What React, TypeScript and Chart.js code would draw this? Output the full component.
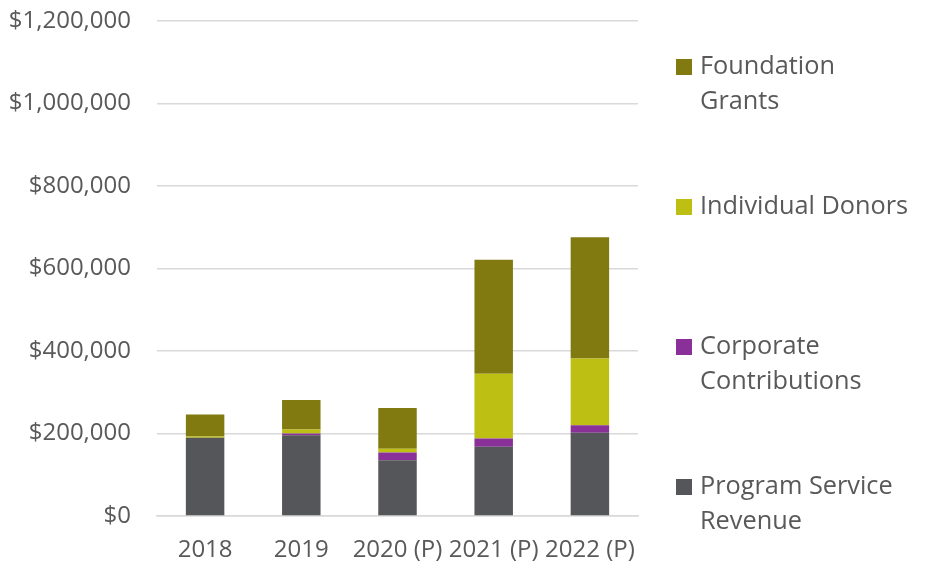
import React, { useEffect, useRef } from "react";
import { Chart, registerables } from "chart.js";

Chart.register(...registerables);

const categories = ["2018", "2019", "2020 (P)", "2021 (P)", "2022 (P)"];
const programService = [190000, 196000, 135000, 168000, 202000];
const corporate = [0, 4000, 19000, 20000, 18000];
const individual = [3000, 10000, 9000, 157000, 162000];
const foundation = [53000, 71000, 99000, 276000, 294000];

const legendItems = [
  { lines: ["Foundation", "Grants"], color: "#807A10" },
  { lines: ["Individual Donors"], color: "#BDBF13" },
  { lines: ["Corporate", "Contributions"], color: "#8A3199" },
  { lines: ["Program Service", "Revenue"], color: "#55565A" },
];

const FONT = "'Open Sans', sans-serif";
const TEXT = "#595959";

const legendPlugin = {
  id: "sideLegend",
  afterDraw(chart: any) {
    const ctx = chart.ctx;
    ctx.save();
    ctx.font = `25.3px ${FONT}`;
    ctx.textBaseline = "middle";
    ctx.textAlign = "left";
    const x0 = 676;
    const firstY = 67;
    const step = 140;
    const lineH = 35;
    legendItems.forEach((it, i) => {
      const y = firstY + i * step;
      ctx.fillStyle = it.color;
      ctx.fillRect(x0, y - 8, 16, 16);
      ctx.fillStyle = TEXT;
      it.lines.forEach((l, j) => {
        ctx.fillText(l, x0 + 24, y + j * lineH);
      });
    });
    ctx.restore();
  },
};

export default function App() {
  const ref = useRef<HTMLCanvasElement | null>(null);
  useEffect(() => {
    if (!ref.current) return;
    const chart = new Chart(ref.current, {
      type: "bar",
      data: {
        labels: categories,
        datasets: [
          { label: "Program Service Revenue", data: programService, backgroundColor: "#55565A" },
          { label: "Corporate Contributions", data: corporate, backgroundColor: "#8A3199" },
          { label: "Individual Donors", data: individual, backgroundColor: "#BDBF13" },
          { label: "Foundation Grants", data: foundation, backgroundColor: "#807A10" },
        ],
      },
      options: {
        animation: false,
        responsive: false,
        maintainAspectRatio: false,
        layout: { padding: { top: 21, right: 289, left: 0, bottom: 0 } },
        datasets: { bar: { barPercentage: 0.4, categoryPercentage: 1 } },
        plugins: { legend: { display: false }, tooltip: { enabled: false } },
        scales: {
          x: {
            stacked: true,
            grid: { display: false, drawTicks: false },
            border: { display: true, color: "#d9d9d9", width: 1.5 },
            ticks: { color: TEXT, font: { family: FONT, size: 24 }, padding: 20, maxRotation: 0, autoSkip: false },
            afterFit(scale: any) {
              scale.height = 47;
              scale.paddingLeft = 0;
              scale.paddingRight = 0;
            },
          },
          y: {
            stacked: true,
            min: 0,
            max: 1200000,
            grid: { color: "#d9d9d9", lineWidth: 1.5, drawTicks: false },
            border: { display: false },
            ticks: {
              stepSize: 200000,
              color: TEXT,
              font: { family: FONT, size: 24 },
              padding: 26,
              callback: (v: any) => "$" + Number(v).toLocaleString("en-US"),
            },
            afterFit(scale: any) {
              scale.width = 157;
              scale.paddingTop = 0;
              scale.paddingBottom = 0;
            },
          },
        },
      },
      plugins: [legendPlugin],
    });
    return () => chart.destroy();
  }, []);
  return (
    <div style={{ position: "fixed", left: 0, top: 0, width: 927, height: 563, background: "#fff" }}>
      <canvas ref={ref} width={927} height={563} style={{ width: 927, height: 563, display: "block" }} />
    </div>
  );
}
